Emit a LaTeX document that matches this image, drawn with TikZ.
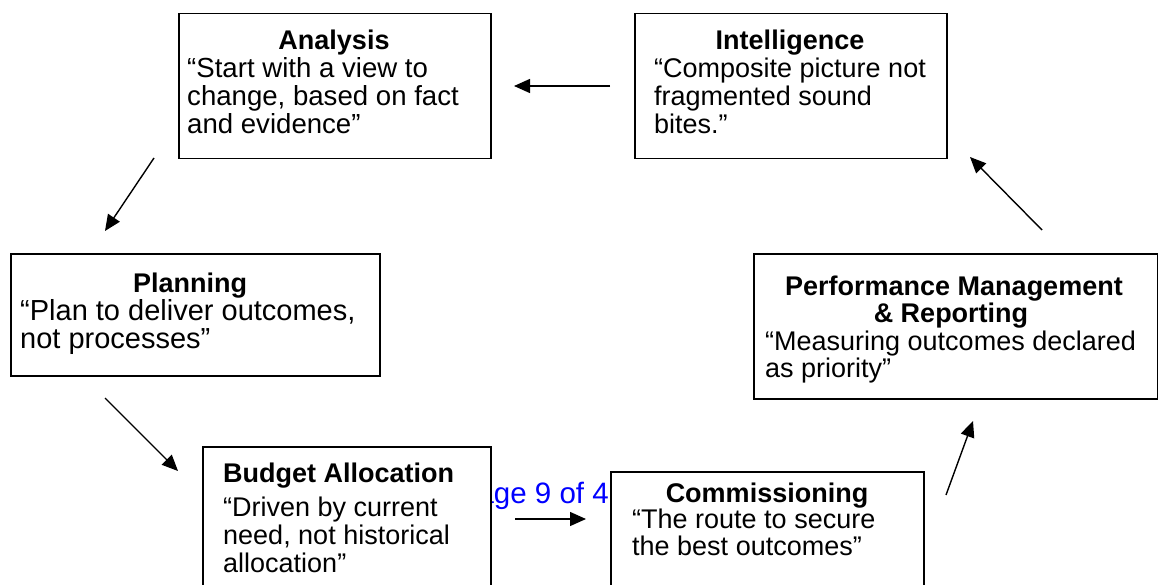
\documentclass[tikz,border=0pt]{standalone}
\usepackage{fontspec}
\setmainfont{Liberation Sans}
\usetikzlibrary{arrows.meta}
\begin{document}
\begin{tikzpicture}[x=1pt,y=-1pt,
  box/.style={draw=black, line width=1.5pt, fill=white, inner sep=0pt, anchor=north west},
  ttl/.style={font=\fontsize{27}{28}\selectfont\bfseries, inner sep=0pt, anchor=base},
  ttlw/.style={font=\fontsize{27}{28}\selectfont\bfseries, inner sep=0pt, anchor=base west},
  body/.style={font=\fontsize{27}{28}\selectfont, inner sep=0pt, anchor=base west},
  bigbody/.style={body, font=\fontsize{29}{30}\selectfont},
  arr/.style={line width=1.4pt, -{Triangle[length=16pt,width=14pt]}}]
\useasboundingbox (0,0) rectangle (1158,585);
\clip (0,0) rectangle (1158,585);
% header text partly hidden behind boxes
\node[font=\fontsize{29.5}{31}\selectfont, text=blue, inner sep=0pt, anchor=base east] (pg) at (609,503) {Page 9 of 4};
% boxes
\node[box, minimum width=312pt, minimum height=145pt] (an) at (178,13) {};
\node[box, minimum width=312pt, minimum height=145pt] (in) at (634,13) {};
\node[box, minimum width=369pt, minimum height=122pt] (pl) at (10,253) {};
\node[box, minimum width=404pt, minimum height=145pt] (pm) at (753,253) {};
\node[box, minimum width=288pt, minimum height=160pt] (ba) at (202,446) {};
\node[box, minimum width=313pt, minimum height=140pt] (co) at (610,471) {};
% Analysis
\node[ttl] (an-t) at (334,50) {Analysis};
\node[body, font=\fontsize{27.6}{28}\selectfont] (an-1) at (187,78) {“Start with a view to};
\node[body, font=\fontsize{27.6}{28}\selectfont] (an-2) at (187,106) {change, based on fact};
\node[body, font=\fontsize{27.6}{28}\selectfont] (an-3) at (187,134) {and evidence”};
% Intelligence
\node[ttl] (in-t) at (790,50) {Intelligence};
\node[body] (in-1) at (654,78) {“Composite picture not};
\node[body] (in-2) at (654,106) {fragmented sound};
\node[body] (in-3) at (654,134) {bites.”};
% Planning
\node[ttl] (pl-t) at (190,292) {Planning};
\node[bigbody] (pl-1) at (20,320) {“Plan to deliver outcomes,};
\node[bigbody] (pl-2) at (20,348) {not processes”};
% Performance
\node[ttl] (pm-t1) at (954,295) {Performance Management};
\node[ttl] (pm-t2) at (951,322) {\& Reporting};
\node[body] (pm-1) at (765,350) {“Measuring outcomes declared};
\node[body] (pm-2) at (765,377) {as priority”};
% Budget
\node[ttlw] (ba-t) at (223,482) {Budget Allocation};
\node[body] (ba-1) at (223,516) {“Driven by current};
\node[body] (ba-2) at (223,544) {need, not historical};
\node[body] (ba-3) at (223,572) {allocation”};
% Commissioning
\node[ttl] (co-t) at (767,502) {Commissioning};
\node[body] (co-1) at (632,528) {“The route to secure};
\node[body] (co-2) at (632,555) {the best outcomes”};
% arrow end points
\coordinate (a1s) at (610,86);  \coordinate (a1e) at (514,86);
\coordinate (a2s) at (154,158); \coordinate (a2e) at (105,231);
\coordinate (a3s) at (105,398); \coordinate (a3e) at (178,471);
\coordinate (a4s) at (515,519); \coordinate (a4e) at (586,519);
\coordinate (a5s) at (946,495); \coordinate (a5e) at (973,421);
\coordinate (a6s) at (1042,230); \coordinate (a6e) at (970,157);
\draw[arr] (a1s) -- (a1e);
\draw[arr] (a2s) -- (a2e);
\draw[arr] (a3s) -- (a3e);
\draw[arr] (a4s) -- (a4e);
\draw[arr] (a5s) -- (a5e);
\draw[arr] (a6s) -- (a6e);
\end{tikzpicture}
\end{document}
